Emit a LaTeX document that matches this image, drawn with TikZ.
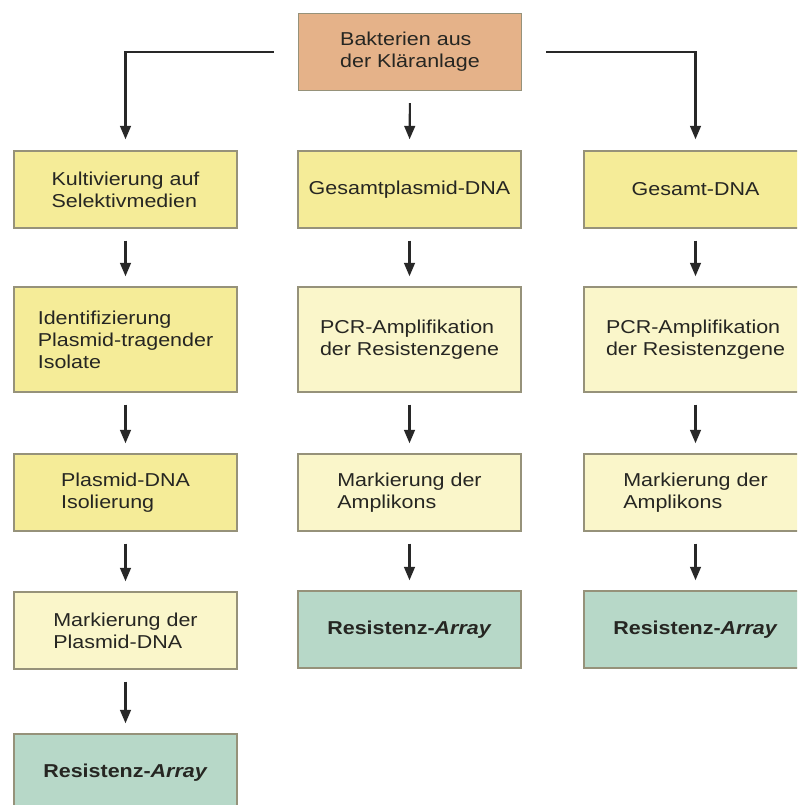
\documentclass[tikz,border=0pt]{standalone}
\usepackage{fontspec}
\setmainfont{Liberation Sans}[FakeStretch=1.15]
\usetikzlibrary{arrows.meta}
\definecolor{cOrange}{RGB}{229,178,137}
\definecolor{cYellow}{RGB}{245,236,152}
\definecolor{cLight}{RGB}{250,246,202}
\definecolor{cTeal}{RGB}{183,216,200}
\definecolor{cBorder}{RGB}{150,146,122}
\definecolor{cText}{RGB}{38,38,34}
\definecolor{cArrow}{RGB}{40,40,40}
\tikzset{
  box/.style={draw=cBorder, line width=1.1pt, minimum width=167pt, minimum height=57.75pt,
    align=left, text=cText, inner sep=0pt, font=\fontsize{14}{16.5}\selectfont},
  tall/.style={minimum height=78.75pt},
  yel/.style={box, fill=cYellow},
  lig/.style={box, fill=cLight},
  ora/.style={box, fill=cOrange},
  res/.style={box, fill=cTeal, font=\fontsize{14}{16.5}\selectfont\bfseries},
  conn/.style={draw=cArrow, line width=1.6pt, -{Triangle[width=8pt,length=10pt]}},
  stp/.style={conn, shorten <=9pt, shorten >=7.5pt},
}
\begin{document}
\begin{tikzpicture}[x=0.75pt,y=-0.75pt]
\useasboundingbox (0,0) rectangle (797,805);
\clip (0,0) rectangle (797,805);
\fill[white] (0,0) rectangle (797,805);
% top
\node[ora] (top) at (410,52) {Bakterien aus\\der Kläranlage};
% column 1
\node[yel] (a1) at (125.5,189.5) {Kultivierung auf\\Selektivmedien};
\node[yel,tall] (a2) at (125.5,339.5) {Identifizierung\\Plasmid-tragender\\Isolate};
\node[yel] (a3) at (125.5,492.5) {Plasmid-DNA\\Isolierung};
\node[lig] (a4) at (125.5,630.5) {Markierung der\\Plasmid-DNA};
\node[res] (a5) at (125.5,772.5) {Resistenz-\textit{Array}};
% column 2
\node[yel] (b1) at (409.5,189.5) {Gesamtplasmid-DNA};
\node[lig,tall] (b2) at (409.5,339.5) {PCR-Amplifikation\\der Resistenzgene};
\node[lig] (b3) at (409.5,492.5) {Markierung der\\Amplikons};
\node[res] (b4) at (409.5,629.5) {Resistenz-\textit{Array}};
% column 3
\node[yel] (c1) at (695.5,189.5) {Gesamt-DNA};
\node[lig,tall] (c2) at (695.5,339.5) {PCR-Amplifikation\\der Resistenzgene};
\node[lig] (c3) at (695.5,492.5) {Markierung der\\Amplikons};
\node[res] (c4) at (695.5,629.5) {Resistenz-\textit{Array}};
% connectors from top
\draw[conn, shorten <=18pt, shorten >=8.25pt] (top.west) -| (a1.north);
\draw[conn, shorten <=18pt, shorten >=8.25pt] (top.east) -| (c1.north);
\draw[conn, shorten <=9pt, shorten >=8.25pt] (top.south) -- (b1.north);
% column arrows
\draw[stp] (a1) -- (a2);
\draw[stp] (a2) -- (a3);
\draw[stp] (a3) -- (a4);
\draw[stp] (a4) -- (a5);
\draw[stp] (b1) -- (b2);
\draw[stp] (b2) -- (b3);
\draw[stp] (b3) -- (b4);
\draw[stp] (c1) -- (c2);
\draw[stp] (c2) -- (c3);
\draw[stp] (c3) -- (c4);
\end{tikzpicture}
\end{document}
